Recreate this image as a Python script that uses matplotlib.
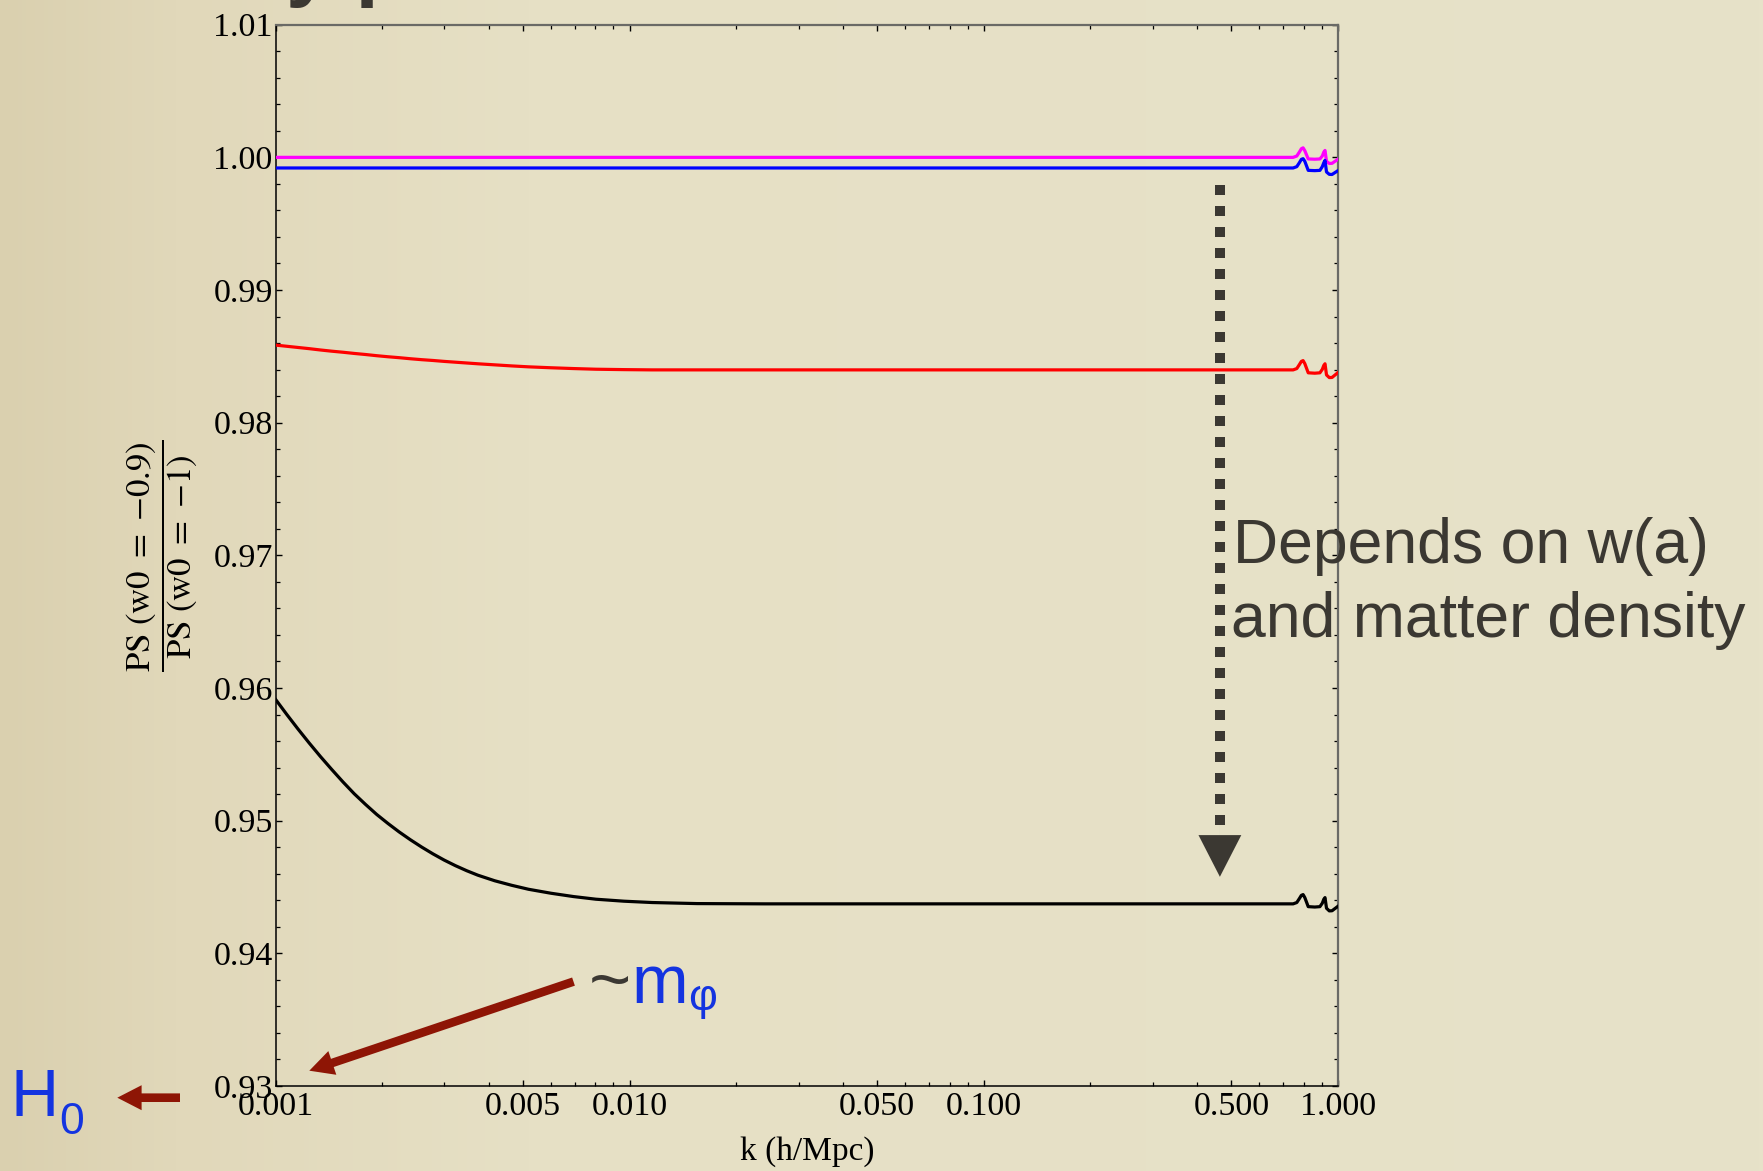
import numpy as np
import matplotlib
matplotlib.use("Agg")
import matplotlib.pyplot as plt
from matplotlib.ticker import FixedLocator, MultipleLocator, NullFormatter, LogLocator, FixedFormatter
from matplotlib.patches import FancyArrowPatch

plt.rcParams['font.family'] = ['Liberation Serif', 'DejaVu Serif']
plt.rcParams['mathtext.fontset'] = 'stix'

# ---------------- data ----------------
k_low = [0.001, 0.0010758, 0.0011574, 0.0012452, 0.0013397, 0.0014413, 0.0015506, 0.0016681,
         0.0017947, 0.0019307, 0.0020772, 0.0022347, 0.0024042, 0.0025866, 0.0027826,
         0.0029936, 0.0032206, 0.0034649, 0.0037276, 0.0041595, 0.0046416, 0.0051795,
         0.0059948, 0.006938, 0.00803, 0.0096413, 0.011575, 0.015506, 0.024042,
         0.05, 0.1, 0.2, 0.5]
k_high = [0.747, 0.765, 0.778, 0.788, 0.797, 0.806, 0.824, 0.86, 0.889, 0.903, 0.912, 0.919,
          0.928, 0.945, 0.962, 1.0]
k = k_low + k_high

ratio_magenta = [1.0000] * 33 + [1.0, 1.0001, 1.0004, 1.00065, 1.00072, 1.0005, 0.99988, 0.99986,
                                 0.99988, 1.0001, 1.0004, 1.00052, 0.9997, 0.99954, 0.99955, 0.99986]
ratio_blue = [0.9992] * 33 + [0.9992, 0.9993, 0.9996, 0.99985, 0.9999, 0.9997, 0.99902, 0.999,
                              0.99902, 0.9993, 0.9996, 0.99977, 0.9989, 0.99872, 0.99871, 0.999]
ratio_red = [0.98585, 0.98576, 0.98567, 0.98558, 0.98548, 0.98539, 0.98531, 0.98522, 0.98514,
             0.98505, 0.98497, 0.98490, 0.98482, 0.98475, 0.98469, 0.98462, 0.98456, 0.98450,
             0.98444, 0.98436, 0.98428, 0.98421, 0.98414, 0.98408, 0.98403, 0.98400, 0.98398,
             0.98398, 0.98398, 0.98398, 0.98398, 0.98398, 0.98398,
             0.98398, 0.98408, 0.98438, 0.98462, 0.98468, 0.98445, 0.98376, 0.98373, 0.98376,
             0.98402, 0.98432, 0.98444, 0.98360, 0.98340, 0.98341, 0.98378]
ratio_black = [0.95915, 0.95801, 0.95691, 0.95585, 0.95483, 0.95386, 0.95292, 0.95203, 0.95123,
               0.95047, 0.94979, 0.94915, 0.94856, 0.94801, 0.94750, 0.94703, 0.94661, 0.94623,
               0.94589, 0.94547, 0.94513, 0.94483, 0.94453, 0.94428, 0.94408, 0.94393, 0.94383,
               0.94375, 0.94373, 0.94373, 0.94373, 0.94373, 0.94373,
               0.94373, 0.94383, 0.94413, 0.94437, 0.94443, 0.9442, 0.94352, 0.94349, 0.94352,
               0.94378, 0.94408, 0.9442, 0.9434, 0.9432, 0.94321, 0.94355]

xtick_vals = [0.001, 0.005, 0.01, 0.05, 0.1, 0.5, 1.0]
xtick_labels = ['0.001', '0.005', '0.010', '0.050', '0.100', '0.500', '1.000']
ytick_vals = [0.93, 0.94, 0.95, 0.96, 0.97, 0.98, 0.99, 1.00, 1.01]
ytick_labels = ['0.93', '0.94', '0.95', '0.96', '0.97', '0.98', '0.99', '1.00', '1.01']

# ---------------- figure ----------------
W, H = 1763, 1171
fig = plt.figure(figsize=(W / 100, H / 100), dpi=100)

# beige background (horizontal gradient)
bg = fig.add_axes([0, 0, 1, 1], zorder=-10)
xs = np.linspace(0, 1, 400)
stops = [0.0, 0.1, 0.3, 1.0]
cols = np.array([(218, 208, 175), (225, 216, 186), (230, 224, 197), (231, 226, 201)]) / 255.0
grad = np.stack([np.interp(xs, stops, cols[:, c]) for c in range(3)], axis=-1)
bg.imshow(np.tile(grad[None, :, :], (10, 1, 1)), aspect='auto', extent=[0, 1, 0, 1])
bg.set_axis_off()

ax = fig.add_axes([275.5 / W, 1 - 1086 / H, (1338 - 275.5) / W, (1086 - 24.7) / H])
ax.patch.set_alpha(0)

ax.plot(k, ratio_magenta, color='#ff00ff', lw=2.3, zorder=3)
ax.plot(k, ratio_blue, color='#0000ff', lw=2.3, zorder=3)
ax.plot(k, ratio_red, color='#ff0000', lw=2.3, zorder=3)
ax.plot(k, ratio_black, color='#000000', lw=2.3, zorder=3)

ax.set_xscale('log')
ax.set_xlim(0.001, 1.0)
ax.set_ylim(0.93, 1.01)
ax.xaxis.set_major_locator(FixedLocator(xtick_vals))
ax.xaxis.set_major_formatter(FixedFormatter(xtick_labels))
ax.xaxis.set_minor_locator(LogLocator(base=10, subs=np.arange(2, 10)))
ax.xaxis.set_minor_formatter(NullFormatter())
ax.yaxis.set_major_locator(FixedLocator(ytick_vals))
ax.yaxis.set_major_formatter(FixedFormatter(ytick_labels))
ax.yaxis.set_minor_locator(MultipleLocator(0.002))

ax.tick_params(which='both', direction='in', top=True, right=True, labelsize=24.5)
ax.tick_params(which='major', length=4.5, width=1.0)
ax.tick_params(which='minor', length=2.6, width=0.9)
ax.tick_params(axis='y', pad=2)
ax.tick_params(axis='x', pad=4)
for s in ['left', 'bottom']:
    ax.spines[s].set_color('black')
    ax.spines[s].set_linewidth(1.1)
for s in ['top', 'right']:
    ax.spines[s].set_color('#6a6a66')
    ax.spines[s].set_linewidth(1.6)

ax.set_xlabel('k (h/Mpc)', fontsize=24)
ax.xaxis.set_label_coords(0.5, -0.047)
ax.set_ylabel(r'$\dfrac{\mathrm{PS\ (w0\ =\ {-}0.9)}}{\mathrm{PS\ (w0\ =\ {-}1)}}$', fontsize=25)
ax.yaxis.set_label_coords(-0.071, 0.5)

# ---------------- annotations ----------------
dark = '#3b3832'
blue_txt = '#1434e0'
dark_red = '#8e1505'

def fy(y_top):
    return 1 - y_top / H

# dotted arrow
arrow_k = 0.464
dot_top, dot_bottom, arrow_tip = 0.9979, 0.9494, 0.94577
ax.plot([arrow_k, arrow_k], [dot_top, dot_bottom], color=dark, lw=7.2,
        dashes=(1.0, 1.1), dash_capstyle='butt', zorder=4)
ax.annotate('', xy=(arrow_k, arrow_tip), xytext=(arrow_k, dot_bottom + 0.0004),
            arrowprops=dict(arrowstyle='-|>,head_length=1.5,head_width=0.77',
                            color=dark, lw=0.01, mutation_scale=20,
                            shrinkA=0, shrinkB=0), zorder=4)

sans = ['Liberation Sans', 'DejaVu Sans']
fig.text(1233 / W, fy(563.5), 'Depends on w(a)', fontsize=45, color=dark,
         family=sans, va='baseline', ha='left')
fig.text(1231 / W, fy(637), 'and matter density', fontsize=45, color=dark,
         family=sans, va='baseline', ha='left')

# ~m_phi
fig.text(589 / W, fy(1004), '~', fontsize=52, color=dark,
         family=sans, va='baseline', ha='left')
fig.text(631 / W, fy(1003), 'm', fontsize=49, color=blue_txt,
         family=sans, va='baseline', ha='left')
fig.text(688 / W, fy(1010), 'φ', fontsize=32, color=blue_txt,
         family=sans, va='baseline', ha='left')

# H_0
fig.text(10 / W, fy(1116.5), 'H', fontsize=48, color=blue_txt,
         family=sans, va='baseline', ha='left')
fig.text(59 / W, fy(1133.5), '0', fontsize=32, color=blue_txt,
         family=sans, va='baseline', ha='left')

# red arrows (figure pixel coordinates)
def red_arrow(x0, y0, x1, y1):
    p = FancyArrowPatch((x0, H - y0), (x1, H - y1), transform=None,
                        arrowstyle='simple,head_length=1.75,head_width=1.8,tail_width=0.62',
                        mutation_scale=10, color=dark_red, lw=0, shrinkA=0, shrinkB=0)
    fig.patches.append(p)

red_arrow(573.5, 981.6, 309.3, 1070.7)
red_arrow(180, 1097.7, 117.3, 1097.7)

# cut-off title remnant at the very top
fig.text(286 / W, 1 + 8.5 / H, 'y p', fontsize=60, fontweight='bold', color=dark,
         family=sans, va='baseline', ha='left')

fig.savefig('out.png', dpi=100)
